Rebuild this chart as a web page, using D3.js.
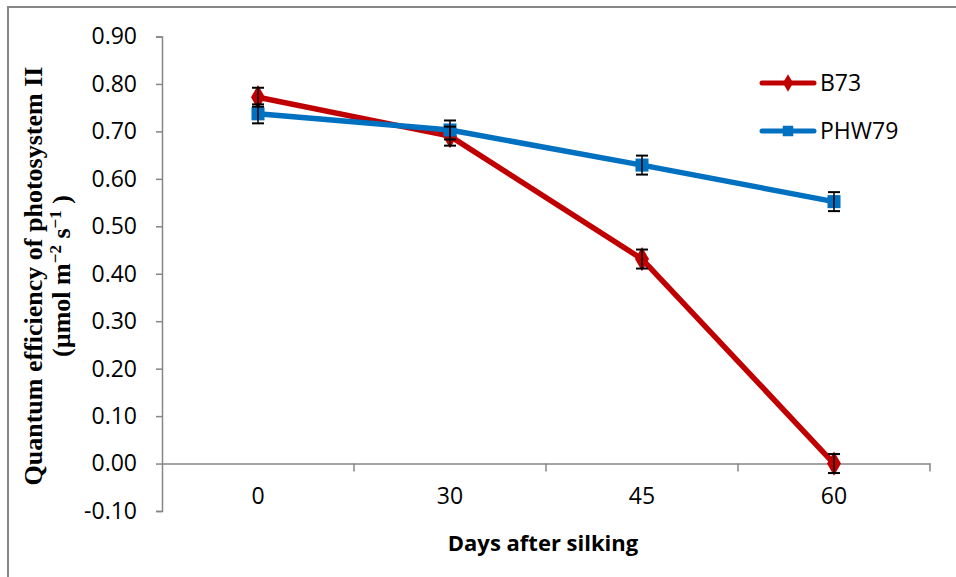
<!DOCTYPE html>
<html>
<head>
<meta charset="utf-8">
<script src="https://cdn.jsdelivr.net/npm/d3@7/dist/d3.min.js"></script>
<style>
  html, body { margin: 0; padding: 0; background: #fff; }
  svg { display: block; }
</style>
</head>
<body>
<svg id="chart" width="956" height="577"></svg>
<script>
// Days after silking (categorical x axis)
const days = ["0", "30", "45", "60"];
// Quantum efficiency of PSII for each line
const b73 = [0.772, 0.690, 0.431, 0.000];
const phw79 = [0.737, 0.703, 0.629, 0.552];
// Standard errors (same for every point)
const b73Err = [0.02, 0.02, 0.02, 0.02];
const phw79Err = [0.02, 0.02, 0.02, 0.02];
// Y axis tick values
const yTicks = [-0.1, 0, 0.1, 0.2, 0.3, 0.4, 0.5, 0.6, 0.7, 0.8, 0.9];

const series = [
  { name: "B73", values: b73, err: b73Err, color: "#C00000", marker: "diamond" },
  { name: "PHW79", values: phw79, err: phw79Err, color: "#0070C0", marker: "square" }
];

const svg = d3.select("#chart");
const axisColor = "#868686";
const labelFont = "'Open Sans', sans-serif";

// outer frame
svg.append("rect")
  .attr("x", 8).attr("y", 7).attr("width", 1000).attr("height", 600)
  .attr("fill", "none").attr("stroke", axisColor).attr("stroke-width", 2);

const x = d3.scaleBand().domain(days).range([162, 930]).padding(0);
const y = d3.scaleLinear().domain([-0.1, 0.9]).range([511, 36.5]);

// Y axis (plain hyphen for negative values)
const fmt = d => d3.format(".2f")(d).replace("\u2212", "-");
const yAxis = d3.axisLeft(y).tickValues(yTicks).tickSize(6).tickPadding(19).tickFormat(fmt);
const gy = svg.append("g").attr("transform", `translate(${x.range()[0]},0)`).call(yAxis);
gy.select(".domain").attr("stroke", axisColor).attr("stroke-width", 1.5);
gy.selectAll(".tick line").attr("stroke", axisColor).attr("stroke-width", 1.5);
gy.selectAll(".tick text")
  .attr("font-family", labelFont).attr("font-size", 23).attr("fill", "#000");

// X axis drawn along y = 0
const xAxis = d3.axisBottom(x).tickSize(0).tickPadding(24);
const gx = svg.append("g").attr("transform", `translate(0,${y(0)})`).call(xAxis);
gx.select(".domain").attr("stroke", axisColor).attr("stroke-width", 1.5);
gx.selectAll(".tick text")
  .attr("font-family", labelFont).attr("font-size", 23).attr("fill", "#000");
// category boundary tick marks
gx.selectAll("line.band-tick")
  .data(days.map(d => x(d) + x.bandwidth()))
  .join("line").attr("class", "band-tick")
  .attr("x1", d => d).attr("x2", d => d)
  .attr("y1", 0).attr("y2", 8)
  .attr("stroke", axisColor).attr("stroke-width", 1.5);

// axis titles
svg.append("text")
  .attr("x", (x.range()[0] + x.range()[1]) / 2 - 3).attr("y", 551)
  .attr("text-anchor", "middle")
  .attr("font-family", labelFont).attr("font-weight", "bold")
  .attr("font-size", 22).attr("fill", "#000")
  .text("Days after silking");

const yTitle = svg.append("g").attr("transform", "translate(0,276) rotate(-90)");
yTitle.append("text")
  .attr("x", 0).attr("y", 42)
  .attr("text-anchor", "middle")
  .attr("font-family", "'Liberation Serif', 'Times New Roman', serif").attr("font-weight", "bold")
  .attr("font-size", 26).attr("fill", "#000")
  .text("Quantum efficiency of photosystem II");
const t2 = yTitle.append("text")
  .attr("x", 0).attr("y", 70)
  .attr("text-anchor", "middle")
  .attr("font-family", "'Liberation Serif', 'Times New Roman', serif").attr("font-weight", "bold")
  .attr("font-size", 26).attr("fill", "#000");
t2.append("tspan").text("(µmol m");
t2.append("tspan").attr("dy", -9).attr("font-size", 17).text("−2");
t2.append("tspan").attr("dy", 9).text(" s");
t2.append("tspan").attr("dy", -9).attr("font-size", 17).text("−1");
t2.append("tspan").attr("dy", 9).text(" )");

const cx = d => x(d) + x.bandwidth() / 2;
const line = d3.line().x((d, i) => cx(days[i])).y(d => y(d));

const markerPath = (type) => type === "diamond"
  ? d3.symbol().type(d3.symbolDiamond).size(170)()
  : d3.symbol().type(d3.symbolSquare).size(170)();

series.forEach(s => {
  svg.append("path")
    .datum(s.values)
    .attr("d", line)
    .attr("fill", "none")
    .attr("stroke", s.color)
    .attr("stroke-width", 5.5)
    .attr("stroke-linejoin", "round")
    .attr("stroke-linecap", "round");
});

series.forEach(s => {
  const g = svg.append("g");
  g.selectAll("path.mk")
    .data(s.values)
    .join("path").attr("class", "mk")
    .attr("d", markerPath(s.marker))
    .attr("transform", (d, i) => `translate(${cx(days[i])},${y(d)})`)
    .attr("fill", s.color);
});

// error bars on top of markers
series.forEach(s => {
  const g = svg.append("g");
  s.values.forEach((v, i) => {
    const px = cx(days[i]);
    const top = y(v + s.err[i]), bot = y(v - s.err[i]);
    g.append("line").attr("x1", px).attr("x2", px).attr("y1", top).attr("y2", bot)
      .attr("stroke", "#000").attr("stroke-width", 1.5);
    [top, bot].forEach(yy => g.append("line")
      .attr("x1", px - 6).attr("x2", px + 6).attr("y1", yy).attr("y2", yy)
      .attr("stroke", "#000").attr("stroke-width", 2));
  });
});

// legend
const legend = svg.append("g");
series.forEach((s, i) => {
  const ly = 83 + i * 48;
  legend.append("line").attr("x1", 762).attr("x2", 814).attr("y1", ly).attr("y2", ly)
    .attr("stroke", s.color).attr("stroke-width", 5).attr("stroke-linecap", "round");
  legend.append("path").attr("d", d3.symbol().type(s.marker === "diamond" ? d3.symbolDiamond : d3.symbolSquare).size(s.marker === "diamond" ? 90 : 110)())
    .attr("transform", `translate(788,${ly})`).attr("fill", s.color);
  legend.append("text").attr("x", 820).attr("y", ly).attr("dy", "0.35em")
    .attr("font-family", labelFont).attr("font-size", 23).attr("fill", "#000")
    .text(s.name);
});
</script>
</body>
</html>
